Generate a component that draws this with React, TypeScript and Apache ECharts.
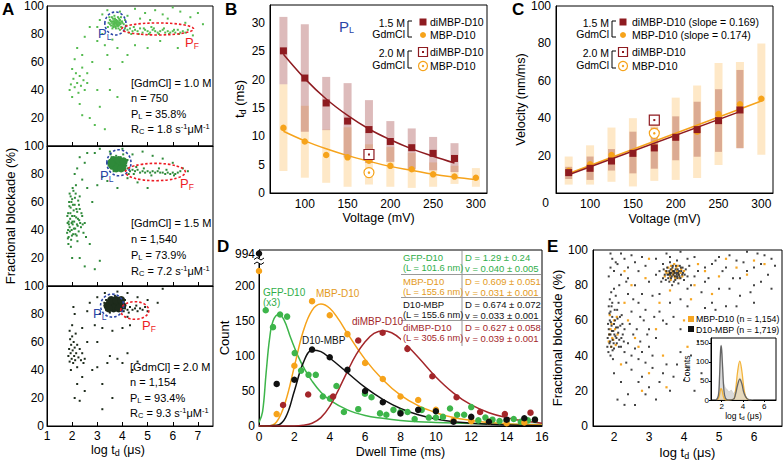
import React, { useEffect, useRef } from "react";
import * as echarts from "echarts";

const FONT = '"Liberation Sans", Arial, Helvetica, sans-serif';

// ---------------- Panel A ----------------
const A_X_TICKS = [1, 2, 3, 4, 5, 6, 7];
const A_Y_TICKS_TOP = [20, 40, 60, 80, 100];
const A_Y_TICKS_BOTTOM = [0, 20, 40, 60, 80, 100];

const a1Points = [
  [3.45,88],[3.5,90],[3.55,86],[3.6,89],[3.62,91],[3.65,87],[3.7,88],[3.72,85],[3.75,90],[3.78,87],[3.8,89],[3.82,92],[3.85,86],[3.88,88],[3.9,90],[3.92,87],[3.95,85],[3.98,89],[4.0,88],[3.5,87],[3.58,92],[3.68,93],[3.74,84],[3.84,84],[3.64,85],[3.54,89],[3.86,91],[3.94,92],[3.66,89],[3.76,88],[3.7,91],[3.8,86],[4.05,87],[3.42,85],[3.48,92],[4.1,90],[3.6,84],[3.9,83],
  [4.1,84],[4.2,83],[4.3,84],[4.4,82],[4.5,83],[4.6,82],[4.7,84],[4.8,81],[4.9,83],[5.0,82],[5.1,81],[5.2,83],[5.3,82],[5.4,81],[5.5,82],[5.6,83],[5.7,81],[5.8,82],[5.9,81],[6.0,82],[6.1,81],[6.2,83],[6.3,81],[6.4,82],[6.5,81],[4.25,81],[4.45,85],[4.65,80],[4.85,84],[5.05,80],[5.25,84],[5.45,80],[5.65,84],[5.85,80],[6.05,83],[6.25,80],[6.6,83],[4.15,86],[4.35,80],[5.15,85],
  [3.2,94],[3.4,97],[3.9,96],[4.2,93],[4.5,98],[4.9,95],[5.3,97],[5.6,94],[6.0,99],[6.3,96],[6.7,92],[7.0,95],[4.7,91],[5.1,90],[5.8,91],[6.5,88],[3.1,90],[3.0,85],[7.2,87],[6.8,79],
  [1.9,40],[1.95,44],[2.0,55],[2.05,48],[2.1,42],[2.15,52],[2.2,45],[2.25,38],[2.3,50],[2.35,43],[2.4,56],[2.45,47],[2.5,40],[2.1,62],[2.6,52],[2.2,70],[2.4,65],[2.0,35],[2.3,30],[2.6,45],
  [2.5,78],[2.8,60],[3.0,75],[3.3,72],[3.4,65],[3.6,76],[3.8,70],[3.5,55],[4.0,60],[4.5,72],[5.0,70],[2.7,20],[2.9,15],[3.3,12],[3.1,28],[3.8,35],[2.4,22],[4.2,65],[5.5,75],[6.2,70],[3.2,80],[2.7,85],[3.0,40],[3.5,40]
];
const a1Core = [[3.6,88],[3.7,87],[3.8,89],[3.7,90],[3.8,86],[3.9,88],[3.65,86],[3.75,89],[3.85,87]];
const a1LoopL = [[3.72, 87.5, 0.42, 8.2]];
const a1LoopF = [[5.4, 83.6, 1.43, 4.3]];

const a2Points = [
  [3.45,86],[3.5,90],[3.55,84],[3.57,92],[3.65,82],[3.75,93],[3.85,83],[3.93,92],[4.0,85],[4.05,89],[4.1,83],[3.4,88],[3.53,94],[4.03,94],[4.2,90],[3.7,85],[3.9,88],[3.6,87],[3.8,90],[3.95,86],
  [4.1,84],[4.2,84],[4.3,82],[4.4,83],[4.5,82],[4.6,83],[4.7,81],[4.8,82],[4.9,81],[5.0,82],[5.1,81],[5.2,82],[5.3,81],[5.4,82],[5.5,81],[5.6,81],[5.7,80],[5.8,81],[5.9,80],[6.0,81],[6.1,80],[6.2,81],[4.25,80],[4.55,85],[4.85,84],[5.15,79],[5.45,84],[5.75,83],[6.05,79],[4.15,86],[4.45,80],[6.3,82],
  [1.8,38],[1.82,45],[1.84,52],[1.86,35],[1.88,60],[1.9,42],[1.92,48],[1.94,56],[1.96,33],[1.98,40],[2.0,50],[2.0,62],[2.02,44],[2.04,37],[2.06,54],[2.08,46],[2.1,58],[2.12,41],[2.14,66],[2.16,49],[2.18,36],[2.2,53],[2.22,43],[2.24,61],[2.26,39],[2.28,47],[2.3,55],[2.35,42],[2.4,50],[2.45,38],[1.85,30],[1.95,28],[2.05,68],[2.15,72],[1.9,66],[2.3,64],[2.5,45],[2.55,35],[1.84,40],[1.98,45],
  [1.81,50],[1.83,34],[1.87,44],[1.89,57],[1.91,39],[1.93,52],[1.97,60],[1.99,36],[2.01,46],[2.03,58],[2.07,41],[2.09,50],[2.11,63],[2.13,37],[2.17,55],[2.19,44],[2.21,32],[2.23,48],[2.27,58],[2.32,45],[2.37,52],[2.42,44],[1.86,46],[1.94,64],[2.02,70],
  [2.1,80],[2.2,84],[2.4,76],[2.5,88],[2.3,92],[2.6,70],[2.8,60],[3.0,72],[3.2,78],[2.9,95],[3.1,98],[3.5,96],[4.0,98],[4.4,94],[4.8,96],[5.2,93],[5.6,91],[6.0,88],[6.4,84],[2.3,20],[2.5,14],[2.9,12],[3.1,18],[2.7,30],[3.4,75],[3.8,70],[4.2,77],[4.6,74],[5.0,70],[2.0,20],[2.6,95],[6.6,82]
];
const a2Core = [[3.6,86],[3.7,88],[3.8,86],[3.9,88],[4.0,86],[3.65,90],[3.75,84],[3.85,90],[3.95,84],[3.55,88],[4.05,89]];
const a2LoopL = [[3.86, 88, 0.48, 9.3]];
const a2LoopF = [[5.31, 81.4, 1.19, 6.2]];

const a3Points = [
  [3.3,86],[3.35,90],[3.4,83],[3.9,84],[3.95,89],[4.0,86],[4.05,82],[3.5,81],[3.7,93],[3.28,88],[4.1,90],
  [4.1,84],[4.2,83],[4.3,85],[4.4,83],[4.5,84],[4.6,82],[4.7,84],[4.8,83],[4.25,81],[4.55,86],[4.9,85],[5.0,82],
  [1.85,50],[1.88,55],[1.9,46],[1.92,62],[1.94,52],[1.96,58],[1.98,48],[2.0,64],[2.02,54],[2.04,45],[2.06,60],[2.08,50],[2.1,56],[2.12,47],[2.14,66],[2.16,52],[2.2,58],[2.25,49],[2.3,55],[2.35,47],[2.4,52],[1.9,68],[2.0,72],[2.1,80],[2.05,85],[1.95,40],[2.2,42],[2.45,45],[2.5,48],
  [2.1,20],[2.3,18],[2.2,30],[2.4,35],[2.5,25],[2.8,40],[3.0,42],[3.2,30],[3.4,45],[3.5,50],[3.8,48],[4.0,45],[4.2,52],[4.4,40],[4.6,46],[3.0,60],[2.9,72],[3.2,70],[3.6,68],[4.0,70],[4.2,78],[3.1,80],[2.6,82],[2.7,88],[3.0,92],[3.3,95],[3.8,96],[4.2,95],[4.6,92],[5.0,90],[5.4,88],[5.6,98],[3.2,12],[2.6,60],[2.4,70],[3.6,20],[4.3,72]
];
const a3Core = [[3.4,86],[3.5,88],[3.6,86],[3.7,88],[3.8,86],[3.9,88],[4.0,86],[3.55,90],[3.65,84],[3.75,90],[3.85,84],[3.45,84],[3.95,90]];
const a3LoopL = [[3.59, 86, 0.46, 8.2]];
const a3LoopF = [[4.49, 82.5, 0.56, 6.3]];

// ---------------- Panel B ----------------
const V_TICKS = [100, 150, 200, 250, 300];
const TD_TICKS = [0, 5, 10, 15, 20, 25, 30];
const voltDi = [75, 100, 125, 150, 175, 200, 225, 250, 275];
const voltMbp = [75, 100, 125, 150, 175, 200, 225, 250, 275, 300];
const tdDi = [25.1, 20.3, 15.9, 12.7, 11.2, 9.1, 8.0, 7.0, 6.1];
const tdDiLow = [19.2, 10.8, 11.1, 6.3, 5.3, 5.5, 4.2, 4.0, 3.7];
const tdDiHigh = [31.1, 29.8, 20.5, 19.4, 16.4, 12.7, 11.4, 9.9, 8.8];
const tdMbp = [11.5, 9.1, 6.7, 6.3, 5.7, 4.8, 4.2, 3.3, 2.9, 2.7];
const tdMbpLow = [3.9, 2.7, 1.8, 1.1, 1.5, 1.1, 0.9, 1.1, 1.6, 1.1];
const tdMbpHigh = [19.2, 15.4, 11.2, 11.6, 8.6, 8.1, 7.1, 5.4, 4.8, 4.4];
const tdDiFit = [24.5, 20.2, 16.6, 13.7, 11.3, 9.4, 7.8, 6.5, 5.3];
const tdMbpFit = [10.9, 9.2, 7.8, 6.6, 5.6, 4.7, 4.0, 3.3, 2.8, 2.4];
const tdDi20 = [[175, 6.8]];
const tdMbp20 = [[175, 3.6]];

// ---------------- Panel C ----------------
const VEL_TICKS = [20, 40, 60, 80, 100];
const velDi = [10.9, 13.2, 17.1, 21.2, 24.1, 29.8, 33.9, 38.7, 44.4];
const velDiLow = [7.5, 7, 12, 10.5, 13, 17.5, 19.4, 22, 23.9];
const velDiHigh = [14, 19.5, 23.5, 32.8, 35, 41, 48.8, 55.5, 65.8];
const velMbp = [11.9, 15.3, 20.3, 21.5, 24.5, 29.8, 32.8, 42.2, 47.4, 50.4];
const velMbpLow = [4.5, 4.5, 6, 3.5, 6.5, 7, 8, 15, 24, 20.5];
const velMbpHigh = [19.5, 25.5, 35, 40, 40, 51, 57.5, 69.5, 70, 80];
const velDiFit = [[75, 9.8], [275, 43.5]];
const velMbpFit = [[75, 10.4], [300, 49.2]];
const velDi20 = [[175, 39]];
const velMbp20 = [[175, 31.9]];

// ---------------- Panel D ----------------
const DWELL_TICKS = [0, 2, 4, 6, 8, 10, 12, 14, 16];
const COUNT_TICKS = [0, 50, 100, 150, 200];
const gfpPts = [[0.38,165],[0.79,141],[1.19,159],[1.59,156],[2.02,104],[2.38,79],[2.8,73],[3.21,73],[3.61,42],[4.02,39],[4.38,57],[4.8,20],[5.61,24],[5.99,46],[6.36,41],[6.84,18],[7.2,16],[7.6,23],[8.0,20],[8.4,20],[8.8,10],[9.2,23],[9.6,12],[10.0,12],[10.4,13],[10.8,25],[11.2,16],[11.6,16],[12.0,27],[12.4,8],[12.8,12],[13.2,9],[13.6,7],[14.0,8],[14.4,10],[14.8,6],[15.2,8],[15.6,9]];
const mbpPts = [[0,221],[1.0,17],[2.0,86],[3.0,178],[4.0,158],[5.0,131],[6.0,90],[7.0,67],[8.0,42],[9.0,37],[10.0,23],[11.0,8],[12.0,7],[13.0,6],[14.0,4],[15.0,5]];
const d10Pts = [[0,994],[1.0,60],[2.0,66],[3.0,109],[4.0,98],[5.0,80],[6.0,50],[7.0,34],[8.0,18],[9.0,23],[10.0,21],[11.0,6],[12.0,13],[13.0,6],[14.0,9],[15.0,11],[15.6,9]];
const diPts = [[1.36,30],[2.78,45],[4.19,42],[5.61,122],[6.99,133],[8.39,110],[9.8,71],[11.17,41],[12.5,20],[13.9,17],[15.35,19]];
const gfpFit = [[0,5],[0.2,20],[0.4,75],[0.6,125],[0.8,150],[1.1,159],[1.4,152],[1.8,125],[2.2,100],[2.6,80],[3,64],[3.5,48],[4,37],[5,23],[6,15],[7,11],[8,8],[9,6],[10,5],[12,3.5],[14,2.5],[16,2]];
const mbpFit = [[0,0],[0.5,0],[1,6],[1.5,35],[2,85],[2.5,135],[3,165],[3.5,174],[4,168],[4.5,152],[5,132],[6,95],[7,66],[8,44],[9,29],[10,19],[11,12],[12,8],[13,5],[14,3],[16,1.5]];
const d10Fit = [[0,0],[1,1],[1.5,12],[2,50],[2.5,90],[3,108],[3.5,106],[4,97],[5,76],[6,55],[7,38],[8,25],[9,16],[10,10],[11,6],[12,4],[13,2.5],[14,1.5],[16,0.5]];
const diFit = [[0,0],[2,0],[2.5,1],[3,4],[3.5,12],[4,28],[4.5,52],[5,78],[5.5,102],[6,120],[6.5,132],[7,136],[7.5,133],[8,124],[9,98],[10,70],[11,47],[12,30],[13,19],[14,12],[15,7],[16,4]];
const D_Y_MAX = 251;
const D_BREAK_POS = 246;

const tableRows = [
  { name: "GFP-D10", len: "(L = 101.6 nm)", d: "D = 1.29 \u00b1 0.24", v: "v = 0.040 \u00b1 0.005", color: "#2fae49" },
  { name: "MBP-D10", len: "(L = 155.6 nm)", d: "D = 0.609 \u00b1 0.051", v: "v = 0.031 \u00b1 0.001", color: "#e39a22" },
  { name: "D10-MBP", len: "(L = 155.6 nm)", d: "D = 0.674 \u00b1 0.072", v: "v = 0.033 \u00b1 0.001", color: "#111111" },
  { name: "diMBP-D10", len: "(L = 305.6 nm)", d: "D = 0.627 \u00b1 0.058", v: "v = 0.039 \u00b1 0.001", color: "#a3262a" },
];

// ---------------- Panel E ----------------
const E_X_TICKS = [2, 3, 4, 5, 6];
const E_Y_TICKS = [0, 20, 40, 60, 80, 100];
const eBlack = [
  [3.45,86],[3.5,88],[3.55,84],[3.6,87],[3.62,89],[3.65,85],[3.7,86],[3.72,88],[3.75,83],[3.78,87],[3.8,85],[3.82,89],[3.85,86],[3.9,84],[3.92,88],[3.95,86],[4.0,83],[3.58,82],[3.68,91],[3.88,91],[3.52,90],[3.66,80],[3.84,81],[4.05,89],[3.4,84],[3.74,85],[3.64,87],[3.86,88],[3.76,89],[3.56,86],[3.96,90],[4.1,85],[3.3,88],[3.6,93],[3.8,94],[4.2,80],[3.35,82],[4.15,91],
  [3.42,89],[3.48,83],[3.58,88],[3.63,84],[3.67,90],[3.71,82],[3.73,87],[3.77,91],[3.81,84],[3.83,87],[3.87,85],[3.91,90],[3.97,87],[4.02,86],[3.53,86],[3.61,86],[3.69,88],[3.79,86],
  [1.82,50],[1.85,55],[1.87,47],[1.88,60],[1.9,52],[1.9,65],[1.92,45],[1.93,57],[1.95,62],[1.96,49],[1.98,54],[2.0,58],[2.0,44],[2.02,66],[2.04,51],[2.06,56],[2.08,47],[2.1,61],[2.12,53],[2.15,49],[2.18,57],[2.2,45],[2.22,63],[1.85,68],[1.88,72],[1.92,76],[1.95,70],[2.0,78],[2.05,74],[1.84,42],[2.25,52],[2.28,48],[2.3,55],[1.9,40],[1.97,38],
  [1.83,58],[1.86,52],[1.89,48],[1.91,59],[1.94,54],[1.99,47],[2.01,52],[2.03,60],[2.07,50],[2.11,56],[2.14,45],[2.17,62],[2.21,50],[2.24,58],[1.87,64],[1.93,68],[2.09,66],[2.13,70],[1.81,45],[1.96,43],
  [1.85,85],[1.9,90],[2.0,88],[2.1,92],[2.2,86],[2.3,95],[2.4,90],[2.5,97],[2.6,93],[2.15,80],[2.35,82],[1.95,95],[2.7,88],[2.8,96],[2.9,91],
  [2.3,42],[2.4,47],[2.5,40],[2.55,52],[2.6,44],[2.7,38],[2.75,48],[2.8,42],[2.9,36],[3.0,45],[3.1,40],[2.45,58],[2.65,55],[2.85,60],[2.35,36],[3.2,50],[2.5,65],[2.7,70],[2.9,66],[3.1,74],
  [2.0,30],[2.2,25],[2.4,18],[2.6,12],[2.8,28],[3.0,22],[3.2,15],[3.4,30],[3.6,20],[3.8,35],[4.0,26],[4.2,40],[4.4,48],[4.6,67],[4.8,70],[5.0,78],[5.2,68],[5.4,84],[5.6,74],[5.8,88],[6.0,80],[6.2,92],[6.4,86],[4.3,96],[4.6,90],[4.9,94],[5.3,97],[5.7,93],[6.1,98],[6.5,95],[3.4,60],[3.6,70],[3.9,55],[4.1,68],[4.5,76],[3.3,75],[4.7,84],[5.1,88],[3.2,95],[3.5,98],
  [2.1,15],[2.3,12],[2.5,32],[2.7,25],[2.9,18],[3.1,33],[3.3,25],[3.5,35],[3.7,28],[3.9,42],[4.1,32],[4.3,20],[4.5,30],[2.4,75],[2.6,80],[2.8,75],[3.0,82],[3.2,86],[3.4,92],[3.6,96],[3.9,99],[4.1,95],[4.4,88],[4.6,82],[4.8,92],[5.0,96],[5.2,90],[5.5,94],[5.8,99],[6.0,90],[6.3,97],[6.6,91],[5.3,78],[5.6,84],[5.9,76],[6.2,82],[6.5,78],[4.9,66],[5.5,68],[6.0,70],[3.0,55],[3.3,65],[3.5,58],[3.7,62],[3.9,72],[4.1,78],[4.3,85],[2.2,98],[1.9,98],[2.05,93],[2.4,84],[2.75,62],[2.95,52],[3.15,62],[2.55,72]
];
const eOrange = [
  [3.5,87],[3.6,85],[3.65,89],[3.7,87],[3.75,84],[3.8,88],[3.85,86],[3.55,90],[3.9,87],[3.62,83],[3.72,92],[3.95,85],[3.45,85],[3.82,91],[4.0,88],[3.68,86],
  [3.58,87],[3.63,91],[3.73,85],[3.78,90],[3.87,84],[3.92,89],[3.48,88],[3.67,88],
  [1.85,48],[1.9,55],[1.95,50],[2.0,60],[2.05,46],[1.88,63],[2.1,52],[1.92,45],[1.87,52],[1.93,58],[1.98,49],[2.03,55],[2.08,62],
  [2.3,70],[2.6,50],[3.0,30],[3.4,40],[4.2,72],[4.6,88],[5.0,85],[5.5,90],[2.8,20],[3.2,55],[4.4,92],[6.0,94],[2.2,35],[2.5,80],[3.0,95],[4.0,60],
  [2.4,60],[2.7,45],[3.3,70],[3.6,77],[4.3,80],[4.8,75],[5.2,95],[5.8,86],[6.3,92],[3.5,22],[4.1,45],[2.3,88],[2.9,84]
];
const INSET_X_TICKS = [2, 4, 6];
const INSET_Y_TICKS = [0, 50, 100, 150];
const insetGrayHist = [[1.6,0],[1.75,40],[1.85,120],[1.95,145],[2.05,120],[2.15,60],[2.3,35],[2.5,28],[2.7,22],[2.9,26],[3.1,18],[3.3,24],[3.5,45],[3.7,58],[3.9,48],[4.1,25],[4.3,8],[4.6,2],[5,0]];
const insetBlackFit = [[1.5,0],[1.7,12],[1.8,60],[1.9,130],[1.95,142],[2.0,132],[2.1,80],[2.2,30],[2.35,5],[2.6,0],[3.1,2],[3.3,15],[3.5,40],[3.7,55],[3.9,42],[4.1,18],[4.4,3],[4.8,0]];
const insetOrangeFit = [[1.6,0],[1.75,8],[1.9,28],[1.95,30],[2.05,24],[2.2,6],[2.4,0],[3.1,2],[3.3,25],[3.5,75],[3.7,102],[3.9,75],[4.1,28],[4.3,6],[4.6,0]];

// ---------------- helpers ----------------
const C_GREEN_A1 = "#55bb50";
const C_GREEN_A2 = "#2f8a3a";
const C_DARK_A3 = "#1e2b1c";
const C_BLUE = "#2b45a6";
const C_RED = "#ed1c24";
const C_DI = "#8e1b20";
const C_MBP = "#f6a31b";

const zip = (xs: number[], ys: number[]) => xs.map((x, i) => [x, ys[i]]);
const zip3 = (xs: number[], lo: number[], hi: number[]) => xs.map((x, i) => [x, lo[i], hi[i]]);

function rich(size: number, color: string) {
  return {
    s: { fontSize: size, fontFamily: FONT, fill: color, color, padding: [Math.round(size * 0.7), 0, 0, 0] },
    p: { fontSize: size, fontFamily: FONT, fill: color, color, padding: [0, 0, Math.round(size * 0.7), 0] },
  };
}

function txt(x: number, y: number, text: string, size: number, fill = "#000", align = "left", extra: any = {}) {
  const st: any = {
    text,
    fill,
    font: `${extra.weight || "normal"} ${size}px ${FONT}`,
    align,
    verticalAlign: "middle",
    textAlign: align,
    textVerticalAlign: "middle",
  };
  if (extra.rich) st.rich = extra.rich;
  return { type: "text", x, y, z: 60, silent: true, rotation: extra.rotation || 0, style: st };
}

function axis(grid: number, min: number, max: number, ticks: number[], o: any = {}) {
  const ax: any = {
    type: "value",
    gridIndex: grid,
    min,
    max,
    axisLine: { show: true, onZero: false, lineStyle: { color: "#000", width: 1 } },
    axisTick: { show: false, customValues: ticks, lineStyle: { color: "#000" } },
    axisLabel: { show: true, customValues: ticks, color: "#000", fontSize: 12, fontFamily: FONT, margin: 5 },
    splitLine: { show: false },
  };
  if (o.axisTick) ax.axisTick = { ...ax.axisTick, ...o.axisTick };
  if (o.axisLabel) ax.axisLabel = { ...ax.axisLabel, ...o.axisLabel };
  if (o.name) {
    ax.name = o.name;
    ax.nameLocation = "middle";
    ax.nameGap = o.nameGap;
    ax.nameTextStyle = {
      fontSize: o.nameSize || 12,
      color: "#000",
      fontFamily: FONT,
      rich: rich(Math.round((o.nameSize || 12) * 0.68), "#000"),
      padding: o.namePadding || 0,
    };
  }
  return ax;
}

function errBars(xi: number, data: number[][], color: string, width: number, z = 1) {
  return {
    type: "custom",
    xAxisIndex: xi,
    yAxisIndex: xi,
    data,
    z,
    silent: true,
    encode: { x: 0, y: [1, 2] },
    renderItem: (_p: any, api: any) => {
      const lo = api.coord([api.value(0), api.value(1)]);
      const hi = api.coord([api.value(0), api.value(2)]);
      return {
        type: "rect",
        shape: { x: lo[0] - width / 2, y: hi[1], width, height: lo[1] - hi[1] },
        style: { fill: color },
      };
    },
  };
}

function loop(xi: number, data: number[][], color: string) {
  return {
    type: "custom",
    xAxisIndex: xi,
    yAxisIndex: xi,
    data,
    z: 5,
    silent: true,
    encode: { x: 0, y: 1 },
    renderItem: (_p: any, api: any) => {
      const c = api.coord([api.value(0), api.value(1)]);
      const s = api.size([api.value(2), api.value(3)]);
      return {
        type: "ellipse",
        shape: { cx: c[0], cy: c[1], rx: s[0], ry: s[1] },
        style: { fill: "none", stroke: color, lineWidth: 1.6, lineDash: [2.5, 2] },
      };
    },
  };
}

function scatter(xi: number, data: number[][], color: string, size: number, symbol = "circle", extra: any = {}) {
  return {
    type: "scatter",
    xAxisIndex: xi,
    yAxisIndex: xi,
    data,
    symbol,
    symbolSize: size,
    silent: true,
    z: extra.z || 3,
    itemStyle: { color, opacity: extra.opacity ?? 1, borderColor: extra.borderColor, borderWidth: extra.borderWidth || 0 },
  };
}

function line(xi: number, data: number[][], color: string, width = 1.5, extra: any = {}) {
  return {
    type: "line",
    xAxisIndex: xi,
    yAxisIndex: xi,
    data,
    smooth: extra.smooth ?? 0.4,
    showSymbol: false,
    silent: true,
    z: extra.z || 2,
    lineStyle: { color, width },
    areaStyle: extra.area ? { color: extra.area, opacity: 1 } : undefined,
  };
}

function legendBlock(bx: number, mx: number, tx: number, y1: number, y2: number, label: string, t1: string, t2: string, filled: boolean) {
  const g: any[] = [];
  const [l1, l2] = label.split("\n");
  g.push(txt(bx - 3, y1 + 1, l1, 10.5, "#000", "right"));
  g.push(txt(bx - 3, y2 - 1, l2, 10.5, "#000", "right"));
  g.push({ type: "polyline", z: 60, silent: true, shape: { points: [[bx + 4, y1 - 1], [bx, y1 - 1], [bx, y2 + 2], [bx + 4, y2 + 2]] }, style: { stroke: "#000", lineWidth: 1, fill: "none" } });
  if (filled) {
    g.push({ type: "rect", z: 60, silent: true, shape: { x: mx - 3.5, y: y1 - 3.5, width: 7, height: 7 }, style: { fill: C_DI } });
    g.push({ type: "circle", z: 60, silent: true, shape: { cx: mx, cy: y2, r: 3 }, style: { fill: C_MBP } });
  } else {
    g.push({ type: "rect", z: 60, silent: true, shape: { x: mx - 4.5, y: y1 - 4.5, width: 9, height: 9 }, style: { fill: "#fff", stroke: C_DI, lineWidth: 1.2 } });
    g.push({ type: "rect", z: 61, silent: true, shape: { x: mx - 1, y: y1 - 1, width: 2, height: 2 }, style: { fill: C_DI } });
    g.push({ type: "circle", z: 60, silent: true, shape: { cx: mx, cy: y2, r: 4.5 }, style: { fill: "#fff", stroke: C_MBP, lineWidth: 1.2 } });
    g.push({ type: "circle", z: 61, silent: true, shape: { cx: mx, cy: y2, r: 1.2 }, style: { fill: C_MBP } });
  }
  g.push(txt(tx, y1, t1, 10.5, "#000", "left"));
  g.push(txt(tx, y2, t2, 10.5, "#000", "left"));
  return g;
}

function buildOption() {
  const gridBase = { show: true, borderColor: "#000", borderWidth: 1, backgroundColor: "transparent", containLabel: false };
  const grids = [
    { ...gridBase, left: 47, top: 6, width: 166, height: 140 },
    { ...gridBase, left: 47, top: 146, width: 166, height: 140 },
    { ...gridBase, left: 47, top: 286, width: 166, height: 140 },
    { ...gridBase, left: 270, top: 5, width: 217, height: 188 },
    { ...gridBase, left: 556, top: 6, width: 217, height: 187 },
    { ...gridBase, left: 259, top: 250, width: 283, height: 176 },
    { ...gridBase, left: 593, top: 250, width: 189, height: 176 },
    { ...gridBase, left: 711, top: 338, width: 65, height: 62, backgroundColor: "#fff" },
  ];

  const aTick = { show: true, inside: true, length: 4 };
  const xAxes = [
    axis(0, 1, 7.6, A_X_TICKS, { axisTick: aTick, axisLabel: { show: false } }),
    axis(1, 1, 7.6, A_X_TICKS, { axisTick: aTick, axisLabel: { show: false } }),
    axis(2, 1, 7.6, A_X_TICKS, { axisTick: aTick, axisLabel: { margin: 4 }, name: "log t{s|d} (\u03bcs)", nameGap: 16, nameSize: 12.5, namePadding: [0, 24, 0, 0] }),
    axis(3, 59.3, 313, V_TICKS, { name: "Voltage (mV)", nameGap: 18, nameSize: 12.5 }),
    axis(4, 60.2, 313.6, V_TICKS, { name: "Voltage (mV)", nameGap: 19, nameSize: 12.5 }),
    axis(5, 0, 16, DWELL_TICKS, { name: "Dwell Time (ms)", nameGap: 19, nameSize: 12.5 }),
    axis(6, 1.4, 6.8, E_X_TICKS, { name: "log t{s|d} (\u03bcs)", nameGap: 19, nameSize: 13 }),
    axis(7, 1, 7.1, INSET_X_TICKS, { axisTick: { show: true, length: 2 }, axisLabel: { fontSize: 8, margin: 2 }, name: "log t{s|d} (\u03bcs)", nameGap: 11, nameSize: 8.5 }),
  ];
  const yAxes = [
    axis(0, 0, 100, A_Y_TICKS_TOP, { axisLabel: { margin: 3 } }),
    axis(1, 0, 100, A_Y_TICKS_TOP, { axisLabel: { margin: 3 }, name: "Fractional blockade (%)", nameGap: 30, nameSize: 13 }),
    axis(2, 0, 100, A_Y_TICKS_BOTTOM, { axisLabel: { margin: 3 } }),
    axis(3, 0, 33.2, TD_TICKS, { name: "t{s|d} (ms)", nameGap: 23, nameSize: 13 }),
    axis(4, 0, 100, VEL_TICKS, { name: "Velocity (nm/ms)", nameGap: 25, nameSize: 12.5 }),
    axis(5, 0, D_Y_MAX, [...COUNT_TICKS, D_BREAK_POS], {
      name: "Count",
      nameGap: 27,
      nameSize: 13,
      axisLabel: {
        margin: 4,
        formatter: (v: number) => (v === D_BREAK_POS ? String(Math.max(...d10Pts.map((p) => p[1]))) : String(v)),
      },
    }),
    axis(6, 0, 100, E_Y_TICKS, { name: "Fractional blockade (%)", nameGap: 23, nameSize: 13 }),
    axis(7, 0, 163, INSET_Y_TICKS, { axisTick: { show: true, length: 2 }, axisLabel: { fontSize: 8, margin: 2 }, name: "Counts", nameGap: 15, nameSize: 8.5 }),
  ];

  const dispD = (pts: number[][]) => pts.map(([x, y]) => [x, y > D_Y_MAX ? D_BREAK_POS : y]);

  const series: any[] = [
    // A1
    scatter(0, a1Points, C_GREEN_A1, 2, "rect"),
    scatter(0, a1Core, C_GREEN_A1, 3.5, "circle", { opacity: 0.85 }),
    loop(0, a1LoopL, C_BLUE),
    loop(0, a1LoopF, C_RED),
    // A2
    scatter(1, a2Points, C_GREEN_A2, 2, "rect"),
    scatter(1, a2Core, C_GREEN_A2, 8, "circle"),
    loop(1, a2LoopL, C_BLUE),
    loop(1, a2LoopF, C_RED),
    // A3
    scatter(2, a3Points, C_DARK_A3, 2, "rect"),
    scatter(2, a3Core, C_DARK_A3, 8, "circle"),
    loop(2, a3LoopL, C_BLUE),
    loop(2, a3LoopF, C_RED),
    // B
    errBars(3, zip3(voltMbp, tdMbpLow, tdMbpHigh), "rgba(252,205,130,0.45)", 8, 1),
    errBars(3, zip3(voltDi, tdDiLow, tdDiHigh), "rgba(150,45,45,0.32)", 8, 1),
    line(3, zip(voltMbp, tdMbpFit), C_MBP, 1.5),
    line(3, zip(voltDi, tdDiFit), C_DI, 1.5),
    scatter(3, zip(voltMbp, tdMbp), C_MBP, 6.5, "circle"),
    scatter(3, zip(voltDi, tdDi), C_DI, 7, "rect"),
    scatter(3, tdDi20, "#fff", 10, "rect", { borderColor: C_DI, borderWidth: 1.2, z: 4 }),
    scatter(3, tdDi20, C_DI, 2, "rect", { z: 5 }),
    scatter(3, tdMbp20, "#fff", 10, "circle", { borderColor: C_MBP, borderWidth: 1.2, z: 4 }),
    scatter(3, tdMbp20, C_MBP, 2.5, "circle", { z: 5 }),
    // C
    errBars(4, zip3(voltMbp, velMbpLow, velMbpHigh), "rgba(252,205,130,0.45)", 8, 1),
    errBars(4, zip3(voltDi, velDiLow, velDiHigh), "rgba(165,70,60,0.38)", 7, 1),
    line(4, velMbpFit, C_MBP, 1.5, { smooth: false }),
    line(4, velDiFit, C_DI, 1.5, { smooth: false }),
    scatter(4, zip(voltMbp, velMbp), C_MBP, 6.5, "circle"),
    scatter(4, zip(voltDi, velDi), C_DI, 7, "rect"),
    scatter(4, velDi20, "#fff", 10, "rect", { borderColor: C_DI, borderWidth: 1.2, z: 4 }),
    scatter(4, velDi20, C_DI, 2, "rect", { z: 5 }),
    scatter(4, velMbp20, "#fff", 10, "circle", { borderColor: C_MBP, borderWidth: 1.2, z: 4 }),
    scatter(4, velMbp20, C_MBP, 2.5, "circle", { z: 5 }),
    // D
    line(5, gfpFit, "#3db54a", 1.5),
    line(5, mbpFit, C_MBP, 1.5),
    line(5, d10Fit, "#111", 1.5),
    line(5, diFit, "#a3262a", 1.5),
    scatter(5, gfpPts, "#3db54a", 6.5, "circle"),
    scatter(5, dispD(mbpPts), C_MBP, 6.5, "circle"),
    scatter(5, dispD(d10Pts), "#111", 6.5, "circle"),
    scatter(5, diPts, "#a3262a", 6.5, "circle"),
    // E
    scatter(6, eOrange, "#f6a623", 2.2, "rect"),
    scatter(6, eBlack, "#222", 2, "rect", { opacity: 0.85 }),
    // E inset
    line(7, insetGrayHist, "rgba(190,190,190,0.8)", 0.5, { area: "rgba(205,205,205,0.75)" }),
    line(7, insetOrangeFit, "#f3b43c", 1.3, { area: "rgba(246,214,150,0.45)", z: 3 }),
    line(7, insetBlackFit, "#666", 1.3, { z: 4 }),
  ];

  const aRich = (c: string) => rich(7.5, c);
  const pRich = (c: string) => ({ s: { fontSize: 8.5, fontFamily: FONT, fill: c, color: c, padding: [7, 0, 0, 0] } });

  const g: any[] = [
    // panel letters
    txt(2, 9, "A", 17, "#000", "left", { weight: "bold" }),
    txt(225, 9, "B", 17, "#000", "left", { weight: "bold" }),
    txt(512, 9, "C", 17, "#000", "left", { weight: "bold" }),
    txt(217, 246, "D", 17, "#000", "left", { weight: "bold" }),
    txt(547, 246, "E", 17, "#000", "left", { weight: "bold" }),
    // A annotations
    txt(98, 33, "P{s|L}", 13, C_BLUE, "left", { rich: pRich(C_BLUE) }),
    txt(185, 42, "P{s|F}", 13, C_RED, "left", { rich: pRich(C_RED) }),
    txt(100, 175, "P{s|L}", 13, C_BLUE, "left", { rich: pRich(C_BLUE) }),
    txt(180, 183, "P{s|F}", 13, C_RED, "left", { rich: pRich(C_RED) }),
    txt(93, 313, "P{s|L}", 13, C_BLUE, "left", { rich: pRich(C_BLUE) }),
    txt(142, 325, "P{s|F}", 13, C_RED, "left", { rich: pRich(C_RED) }),
    txt(131, 83, "[GdmCl] = 1.0 M", 11),
    txt(131, 98, "n = 750", 11),
    txt(131, 114, "P{s|L} = 35.8%", 11, "#000", "left", { rich: aRich("#000") }),
    txt(131, 129, "R{s|C} = 1.8 s{p|-1}\u03bcM{p|-1}", 11, "#000", "left", { rich: aRich("#000") }),
    txt(131, 223, "[GdmCl] = 1.5 M", 11),
    txt(131, 239, "n = 1,540", 11),
    txt(131, 255, "P{s|L} = 73.9%", 11, "#000", "left", { rich: aRich("#000") }),
    txt(131, 271, "R{s|C} = 7.2 s{p|-1}\u03bcM{p|-1}", 11, "#000", "left", { rich: aRich("#000") }),
    txt(130, 367, "[GdmCl] = 2.0 M", 11),
    txt(130, 382, "n = 1,154", 11),
    txt(130, 398, "P{s|L} = 93.4%", 11, "#000", "left", { rich: aRich("#000") }),
    txt(130, 413, "R{s|C} = 9.3 s{p|-1}\u03bcM{p|-1}", 11, "#000", "left", { rich: aRich("#000") }),
    // B
    txt(339, 26, "P{s|L}", 15, C_BLUE, "left", { rich: { s: { fontSize: 9, fontFamily: FONT, fill: C_BLUE, color: C_BLUE, padding: [8, 0, 0, 0] } } }),
    ...legendBlock(408, 423, 430, 22, 35, "1.5 M\nGdmCl", "diMBP-D10", "MBP-D10", true),
    ...legendBlock(408, 423, 430, 52, 66, "2.0 M\nGdmCl", "diMBP-D10", "MBP-D10", false),
    // C
    ...legendBlock(612, 623, 632, 22, 35, "1.5 M\nGdmCl", "diMBP-D10 (slope = 0.169)", "MBP-D10 (slope = 0.174)", true),
    ...legendBlock(612, 623, 632, 52, 66, "2.0 M\nGdmCl", "diMBP-D10", "MBP-D10", false),
    txt(549, 203, "0", 12, "#000", "right"),
    // D labels
    txt(263, 292, "GFP-D10", 10, "#2fae49"),
    txt(263, 302, "(x3)", 10, "#2fae49"),
    txt(316, 293, "MBP-D10", 10, "#e39a22"),
    txt(302, 340, "D10-MBP", 10, "#111"),
    txt(352, 321, "diMBP-D10", 10, "#a3262a"),
    // D break marks
    { type: "rect", z: 55, silent: true, shape: { x: 256, y: 258.5, width: 6, height: 5 }, style: { fill: "#fff" } },
    { type: "polyline", z: 56, silent: true, shape: { points: [[254, 259.5], [257, 257.5], [261, 260], [264, 258]] }, style: { stroke: "#000", lineWidth: 1, fill: "none" } },
    { type: "polyline", z: 56, silent: true, shape: { points: [[254, 264], [257, 262], [261, 264.5], [264, 262.5]] }, style: { stroke: "#000", lineWidth: 1, fill: "none" } },
    // D table
    { type: "rect", z: 40, silent: true, shape: { x: 401, y: 251, width: 140, height: 94 }, style: { fill: "#fff" } },
    { type: "line", z: 45, silent: true, shape: { x1: 462, y1: 251, x2: 462, y2: 346 }, style: { stroke: "#999", lineWidth: 1 } },
  ];
  const rowY = [257, 281, 304, 327];
  tableRows.forEach((r, i) => {
    const y = rowY[i];
    g.push(txt(403, y, r.name, 9.5, r.color));
    g.push(txt(403, y + 11, r.len, 9.3, r.color));
    g.push(txt(465, y, r.d, 9.5, r.color));
    g.push(txt(465, y + 11, r.v, 9.5, r.color));
    if (i > 0) {
      g.push({ type: "line", z: 45, silent: true, shape: { x1: 401, y1: y - 6.5, x2: 541, y2: y - 6.5 }, style: { stroke: "#999", lineWidth: 1 } });
    }
  });
  // E legend
  g.push({ type: "rect", z: 60, silent: true, shape: { x: 688, y: 316, width: 6, height: 6 }, style: { fill: "#f6a623" } });
  g.push({ type: "rect", z: 60, silent: true, shape: { x: 688, y: 326, width: 6, height: 6 }, style: { fill: "#111" } });
  g.push(txt(696, 319, "MBP-D10 (n = 1,154)", 8.8));
  g.push(txt(696, 329.5, "D10-MBP (n = 1,719)", 8.8));

  return {
    animation: false,
    backgroundColor: "#fff",
    textStyle: { fontFamily: FONT },
    grid: grids,
    xAxis: xAxes,
    yAxis: yAxes,
    series,
    graphic: { elements: g },
  };
}

export default function App() {
  const ref = useRef<HTMLDivElement>(null);
  useEffect(() => {
    if (!ref.current) return;
    const chart = echarts.init(ref.current, null, { renderer: "svg" });
    chart.setOption(buildOption() as any);
    return () => chart.dispose();
  }, []);
  return (
    <div
      ref={ref}
      style={{ position: "absolute", left: 0, top: 0, width: 784, height: 461, background: "#fff" }}
    />
  );
}
